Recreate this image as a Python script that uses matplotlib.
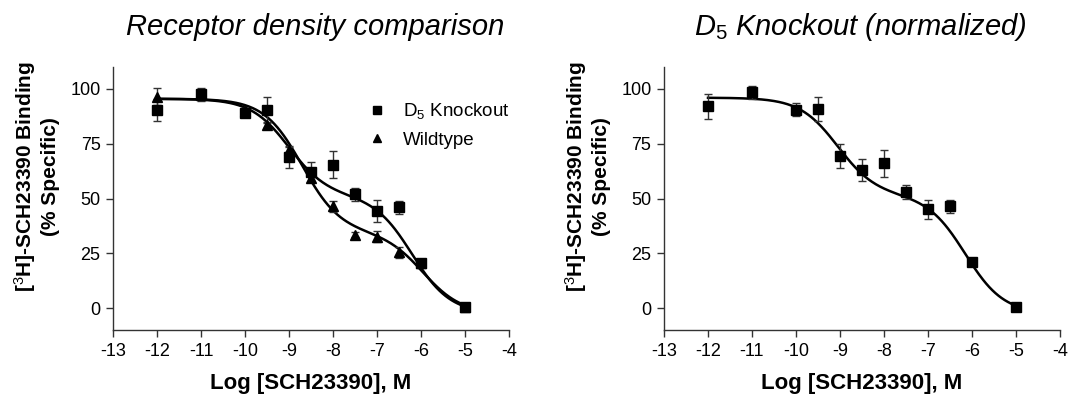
import numpy as np
import matplotlib
matplotlib.use("Agg")
from matplotlib import pyplot as plt
from matplotlib.lines import Line2D

plt.rcParams['font.family'] = ['Liberation Sans', 'DejaVu Sans']
plt.rcParams['mathtext.fontset'] = 'custom'
plt.rcParams['mathtext.rm'] = 'Liberation Sans'
plt.rcParams['mathtext.it'] = 'Liberation Sans:italic'
plt.rcParams['mathtext.bf'] = 'Liberation Sans:bold'
plt.rcParams['axes.unicode_minus'] = False

# log concentration, M
log_conc = [-12, -11, -10, -9.5, -9, -8.5, -8, -7.5, -7, -6.5, -6, -5]

# D5 knockout (raw, left panel)
ko_mean = [90.5, 97.5, 89, 90.5, 69, 62, 65.5, 52, 44.5, 46, 20.5, 0.5]
ko_err = [5, 3, 2, 6, 5, 4.5, 6, 3, 5, 3, 1.5, 0.5]

# wildtype
wt_mean = [96.5, 97, 90, 83.5, 72, 59.5, 46.5, 33.5, 32.5, 25.5, 20.5, 0.5]
wt_err = [4, 2, 1.5, 1.5, 1.5, 2, 2.5, 1, 2.5, 2.5, 1.5, 0.5]

# D5 knockout normalized (right panel)
kon_mean = [92, 98.5, 90.5, 91, 69.5, 63, 66, 53, 45, 46.5, 21, 0.5]
kon_err = [5.5, 3, 3, 5.5, 5.5, 5, 6, 3, 4.5, 3, 1.5, 0.5]

# two-site fit parameters: top, bottom, fraction high, logIC50 high, logIC50 low
ko_fit = (95.5, -2.5, 0.45, -9.0, -6.2)
wt_fit = (95.5, -2.5, 0.62, -8.7, -5.95)
kon_fit = (96.0, -2.5, 0.45, -9.05, -6.15)


def two_site(x, top, bottom, frac, lc1, lc2):
    return bottom + (top - bottom) * (frac / (1 + 10 ** (x - lc1)) +
                                      (1 - frac) / (1 + 10 ** (x - lc2)))


def style_axes(ax):
    ax.set_xlim(-13, -4)
    ax.set_ylim(-10, 110)
    ax.set_xticks(range(-13, -3))
    ax.set_yticks([0, 25, 50, 75, 100])
    ax.spines['top'].set_visible(False)
    ax.spines['right'].set_visible(False)
    for s in ['left', 'bottom']:
        ax.spines[s].set_linewidth(1.0)
        ax.spines[s].set_color('#333333')
    ax.tick_params(direction='out', length=5, width=1, labelsize=13, color='#333333', pad=4)
    ax.set_xlabel('Log [SCH23390], M', fontsize=16, fontweight='bold')
    ax.set_ylabel('[$^3$H]-SCH23390 Binding\n(% Specific)', fontsize=15,
                  fontweight='bold', linespacing=1.15)
    ax.xaxis.set_label_coords(0.5, -0.165)
    ax.yaxis.set_label_coords(-0.135, 0.585)


fig = plt.figure(figsize=(10.7, 3.97), dpi=100)
ax1 = fig.add_axes([113 / 1070, 1 - 330 / 397, 396 / 1070, 263 / 397])
ax2 = fig.add_axes([664 / 1070, 1 - 330 / 397, 396 / 1070, 263 / 397])

xs = np.linspace(-12, -5, 300)

ax1.plot(xs, two_site(xs, *ko_fit), color='black', lw=1.8)
ax1.plot(xs, two_site(xs, *wt_fit), color='black', lw=1.8)
ax1.errorbar(log_conc, wt_mean, yerr=wt_err, fmt='^', color='black', ms=7,
             capsize=3, elinewidth=1, ecolor='#333333')
ax1.errorbar(log_conc, ko_mean, yerr=ko_err, fmt='s', color='black', ms=7,
             capsize=3, elinewidth=1, ecolor='#333333')
handles = [Line2D([], [], marker='s', ls='none', color='black', ms=5.5),
           Line2D([], [], marker='^', ls='none', color='black', ms=5.5)]
ax1.legend(handles, ['D$_5$ Knockout', 'Wildtype'], loc='upper left',
           bbox_to_anchor=(0.644, 0.87), borderaxespad=0, borderpad=0,
           frameon=False, fontsize=13.5, handletextpad=0.85, labelspacing=0.55,
           handlelength=1.0)
style_axes(ax1)

ax2.plot(xs, two_site(xs, *kon_fit), color='black', lw=1.8)
ax2.errorbar(log_conc, kon_mean, yerr=kon_err, fmt='s', color='black', ms=7,
             capsize=3, elinewidth=1, ecolor='#333333')
style_axes(ax2)

fig.text(315 / 1070, 1 - 27 / 397, 'Receptor density comparison', fontsize=21,
         style='italic', ha='center', va='center')
fig.text(860 / 1070, 1 - 27 / 397, '$D_5$ Knockout (normalized)', fontsize=21,
         style='italic', ha='center', va='center')

plt.savefig('out.png', dpi=100)
